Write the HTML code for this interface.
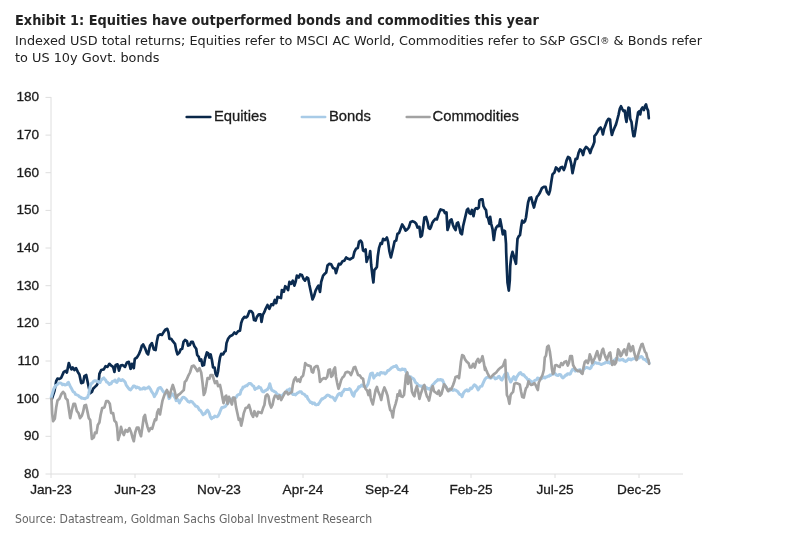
<!DOCTYPE html>
<html><head><meta charset="utf-8">
<style>
html,body{margin:0;padding:0;background:#fff;}
body{width:800px;height:547px;position:relative;overflow:hidden;font-family:"Liberation Sans",sans-serif;}
.t{position:absolute;left:15px;white-space:nowrap;color:#222;font-family:"DejaVu Sans","Liberation Sans",sans-serif;}
#title{top:10.2px;font-size:12.92px;font-weight:bold;line-height:20px;transform:scaleY(1.07);transform-origin:0 0;}
#sub1{top:31.7px;font-size:12.85px;line-height:18px;transform:scaleY(0.93);transform-origin:0 14px;}
#sub2{top:48.7px;font-size:12.87px;line-height:18px;transform:scaleY(0.93);transform-origin:0 14px;}
#src{top:511.05px;font-size:10.9px;line-height:16px;color:#666;transform:scaleY(1.1);transform-origin:0 0;}
svg{position:absolute;left:0;top:0;}
svg text{font-family:"Liberation Sans",sans-serif;font-size:13.6px;fill:#1c1c1c;stroke:#1c1c1c;stroke-width:0.3px;}
</style></head><body>
<div class="t" id="title">Exhibit 1: Equities have outperformed bonds and commodities this year</div>
<div class="t" id="sub1">Indexed USD total returns; Equities refer to MSCI AC World, Commodities refer to S&amp;P GSCI<span style="font-size:72%;position:relative;top:-1.5px">®</span> &amp; Bonds refer</div>
<div class="t" id="sub2">to US 10y Govt. bonds</div>
<div class="t" id="src">Source: Datastream, Goldman Sachs Global Investment Research</div>
<svg width="800" height="547" viewBox="0 0 800 547">
<g id="axes" stroke="#dedede" stroke-width="1" fill="none">
<path d="M51 97V474H683"/>
<path d="M45.5 97.4H51M45.5 135.1H51M45.5 172.7H51M45.5 210.4H51M45.5 248.0H51M45.5 285.7H51M45.5 323.4H51M45.5 361.0H51M45.5 398.7H51M45.5 436.3H51M45.5 474.0H51"/>
<path d="M51 474V478M135 474V478M219 474V478M303 474V478M387 474V478M471 474V478M555 474V478M639 474V478"/>
</g>
<g text-anchor="end">
<text x="39.2" y="101.3">180</text><text x="39.2" y="139.0">170</text><text x="39.2" y="176.6">160</text><text x="39.2" y="214.3">150</text><text x="39.2" y="251.9">140</text><text x="39.2" y="289.6">130</text><text x="39.2" y="327.3">120</text><text x="39.2" y="364.9">110</text><text x="39.2" y="402.6">100</text><text x="39.2" y="440.2">90</text><text x="39.2" y="477.9">80</text>
</g>
<g text-anchor="middle">
<text x="51" y="494.2">Jan-23</text><text x="135" y="494.2">Jun-23</text><text x="219" y="494.2">Nov-23</text><text x="303" y="494.2">Apr-24</text><text x="387" y="494.2">Sep-24</text><text x="471" y="494.2">Feb-25</text><text x="555" y="494.2">Jul-25</text><text x="639" y="494.2">Dec-25</text>
</g>
<g id="lines" fill="none" stroke-width="2.7" stroke-linejoin="round" stroke-linecap="round">
<path id="eq" stroke="#0b2b50" stroke-width="2.7" d="M51.9,398.8 54.4,391.2 56.2,381.2 57.5,378.5 59.4,379.0 61.2,377.8 63.8,371.9 65.6,371.0 66.9,372.5 68.8,363.1 70.0,366.2 71.5,369.4 72.8,367.5 74.4,370.0 76.0,368.1 77.8,371.9 79.4,374.4 81.2,383.1 83.1,382.5 84.4,376.2 86.2,375.0 87.5,381.2 88.8,387.5 90.2,393.1 91.9,391.9 93.1,388.8 95.0,386.9 96.9,385.0 98.8,381.2 99.4,373.8 101.2,370.0 103.8,369.4 105.6,366.2 107.5,366.9 109.4,363.8 111.2,365.6 113.1,366.9 114.4,371.9 115.6,365.0 117.5,364.4 119.0,370.6 120.6,365.6 122.5,365.0 125.0,366.9 126.9,362.5 128.8,361.9 130.6,368.8 131.9,363.8 133.8,368.1 134.8,358.8 136.9,357.5 138.8,354.4 140.6,350.0 141.9,345.6 141.9,346.2 143.1,344.4 145.0,348.1 146.9,353.1 148.1,354.4 150.0,345.6 151.9,343.1 153.8,349.4 155.6,350.0 156.9,341.2 158.1,335.6 160.0,334.4 161.9,335.0 163.8,331.9 165.6,329.4 167.2,328.8 168.5,332.5 169.4,338.8 171.2,338.8 172.8,341.2 175.0,343.8 176.2,350.0 177.5,354.4 179.4,352.5 180.6,349.4 182.2,348.8 183.5,341.9 185.0,340.0 186.9,341.2 188.1,345.6 189.8,345.0 191.2,341.9 192.8,341.9 194.4,346.2 196.2,348.8 197.2,355.0 198.8,356.9 199.8,360.6 201.2,359.4 202.5,365.6 204.0,365.0 205.0,358.8 206.9,352.5 208.1,353.1 209.4,357.5 210.6,354.4 211.9,360.0 213.1,367.5 214.6,367.5 215.6,373.8 216.9,376.2 218.1,371.2 219.0,363.8 220.0,357.5 221.2,353.8 223.1,354.4 224.4,351.9 225.6,351.2 226.5,343.1 228.1,338.8 230.0,336.2 232.5,335.0 234.4,332.5 236.2,333.8 238.1,331.2 240.0,330.6 241.2,323.0 242.5,319.4 244.4,316.9 246.2,317.5 247.5,316.2 249.4,311.2 251.2,311.2 252.8,313.1 254.0,320.0 255.6,320.6 256.9,316.9 258.8,314.4 260.6,314.4 261.5,321.9 262.8,315.0 264.4,311.9 265.6,308.8 267.5,305.0 269.4,308.8 271.2,304.4 273.1,305.0 274.8,300.0 276.2,303.1 277.5,296.9 279.4,297.5 281.0,298.1 281.9,290.0 283.8,291.9 285.2,286.2 286.9,288.1 288.1,290.0 289.4,281.9 291.2,283.8 292.8,280.6 294.4,285.6 295.6,281.9 296.9,275.6 298.8,277.5 300.2,274.4 301.9,275.0 303.5,278.8 305.0,280.6 306.9,277.5 308.1,278.1 309.4,285.0 311.0,292.5 312.5,299.4 314.0,296.2 315.6,290.6 317.2,287.5 318.5,285.6 320.0,291.9 321.2,281.9 323.1,275.6 324.8,273.8 326.2,272.5 327.5,265.6 329.4,263.8 331.2,264.4 333.1,268.1 335.0,268.8 336.0,273.1 337.2,268.8 338.8,263.8 340.6,264.4 342.5,261.2 344.4,260.6 346.2,257.5 348.1,258.8 350.0,259.4 351.9,258.1 353.1,257.5 354.4,251.9 356.0,248.8 357.8,248.1 359.0,241.9 360.6,240.6 361.9,242.5 363.1,250.6 364.4,251.2 365.6,249.4 366.6,261.9 368.1,257.5 369.4,256.2 370.2,251.2 371.2,265.0 372.5,276.2 373.4,282.5 374.4,270.0 375.6,268.8 376.9,266.9 377.8,256.2 379.0,248.1 380.6,243.1 381.9,243.8 383.1,238.8 385.0,240.0 386.9,237.5 388.1,241.9 389.4,251.2 390.9,257.5 392.1,252.5 393.4,246.9 394.6,241.2 396.2,240.6 397.5,233.8 399.0,233.1 400.6,228.8 402.2,224.4 403.8,226.9 405.6,230.6 407.2,229.4 408.8,227.5 410.6,221.9 412.5,221.2 414.4,221.9 416.2,223.8 417.5,227.5 419.4,226.9 420.6,236.9 421.9,235.6 423.1,227.5 424.4,217.5 426.0,216.9 427.5,221.9 428.8,228.1 430.0,228.8 431.0,226.9 432.2,223.1 433.8,220.6 435.6,218.8 436.9,219.4 438.1,215.6 439.4,211.9 440.6,209.4 442.2,210.0 443.8,210.6 445.0,213.1 446.5,212.5 447.5,230.0 448.8,226.2 450.0,220.6 451.5,219.4 452.8,224.4 454.0,227.5 455.6,230.0 456.9,223.1 458.1,222.5 459.4,227.5 460.6,233.1 461.9,234.4 463.1,226.2 464.4,220.6 465.6,215.6 466.9,210.0 468.1,208.8 469.4,213.1 470.6,213.8 471.9,210.0 473.5,216.2 474.8,209.4 476.2,208.1 477.5,208.8 478.8,207.5 479.4,200.6 481.0,199.4 482.5,199.4 483.5,206.2 485.0,208.8 486.0,210.0 486.9,216.9 488.1,218.1 489.4,223.8 490.2,216.9 491.2,223.8 492.5,228.8 493.8,240.0 495.0,231.2 496.2,227.5 497.8,225.6 499.0,226.2 500.2,219.4 501.5,226.2 502.8,234.4 504.0,230.6 505.0,231.2 506.0,243.8 506.2,252.5 506.9,270.0 507.5,282.5 508.8,290.6 509.8,280.0 510.2,266.2 511.2,256.9 512.5,251.9 513.8,256.2 515.0,260.6 516.0,263.8 516.9,247.5 517.5,238.8 518.8,236.2 520.0,235.0 521.2,226.2 522.2,220.6 523.8,222.5 525.0,221.2 526.0,217.5 527.3,208.0 528.1,202.5 529.4,198.1 531.2,197.5 532.5,202.5 534.0,207.5 535.2,202.5 536.9,196.9 538.5,195.0 540.0,192.5 541.9,188.1 543.8,186.9 545.6,186.9 546.9,191.9 548.8,194.4 550.0,190.6 551.2,182.5 552.5,174.4 554.4,172.5 556.0,167.5 557.5,168.8 559.0,171.2 560.6,167.5 562.2,166.9 563.8,170.0 565.0,166.9 566.5,160.6 568.1,156.9 569.8,158.1 571.2,163.8 572.5,173.1 574.0,166.2 575.6,158.8 577.2,158.8 578.5,153.1 580.0,149.4 581.5,150.6 583.1,155.0 584.4,149.4 586.0,146.9 587.5,148.1 588.8,149.4 590.2,153.1 591.5,148.8 593.1,145.6 594.4,141.9 594.4,136.2 596.0,134.4 597.5,131.9 599.0,128.8 600.6,127.5 601.9,130.0 602.9,134.4 604.0,129.4 605.6,125.0 606.9,121.2 608.5,118.8 610.0,119.4 611.0,130.0 611.9,135.0 613.1,131.2 614.4,128.1 616.0,124.4 617.2,120.0 618.5,115.0 619.8,108.8 621.0,106.2 622.2,108.8 623.5,111.2 624.8,110.6 625.6,117.5 626.5,121.9 627.5,113.8 628.5,107.5 629.4,108.1 630.2,118.8 631.5,121.9 632.5,130.0 633.5,136.2 634.4,136.2 635.6,128.8 636.9,120.0 638.1,112.5 639.4,111.2 640.2,114.4 641.2,109.4 642.5,107.5 643.8,110.0 645.0,106.2 646.0,104.4 646.9,108.1 648.1,110.6 648.8,118.1"/>
<path id="bd" stroke="#a8cbe7" stroke-width="3.0" d="M51.2,397.5 52.5,393.1 53.8,388.6 54.7,387.4 55.6,385.5 56.6,385.1 57.5,384.3 58.8,383.0 60.0,383.1 61.2,383.2 62.5,384.7 63.8,384.3 65.0,385.1 65.9,384.7 66.9,384.5 67.7,382.8 68.5,382.4 69.2,384.3 70.0,385.8 70.9,387.6 71.9,389.3 73.1,391.7 74.4,392.3 75.6,394.4 76.9,394.9 78.1,395.3 79.4,396.7 80.4,397.0 81.5,398.2 82.5,398.0 83.8,398.6 85.0,398.8 86.2,397.9 87.5,397.5 88.8,393.6 90.0,387.3 91.2,383.6 92.2,383.1 93.1,381.8 94.1,380.9 95.0,380.7 96.2,380.9 97.5,381.2 98.8,382.4 100.0,382.6 100.9,380.5 101.9,379.4 102.8,378.6 103.8,377.9 104.7,379.3 105.6,379.9 106.6,382.1 107.5,382.3 108.4,383.3 109.4,384.5 110.3,383.5 111.2,383.7 112.2,381.7 113.1,381.3 114.1,381.1 115.0,380.0 115.9,381.9 116.9,382.4 117.8,381.0 118.8,378.8 119.7,379.8 120.6,380.6 121.6,380.6 122.5,379.6 123.4,380.3 124.4,381.3 125.3,382.4 126.2,385.1 127.2,386.5 128.1,387.7 129.4,389.3 130.6,389.9 131.6,388.6 132.5,387.6 133.4,385.9 134.4,386.0 135.3,386.5 136.2,388.0 137.2,387.1 138.1,387.6 139.1,387.8 140.0,389.3 141.2,388.9 142.5,388.9 143.8,387.7 145.0,388.1 145.0,389.0 145.0,388.3 146.2,388.3 147.5,388.1 148.8,386.8 149.7,388.0 150.6,389.3 151.6,391.6 152.5,392.7 153.4,394.1 154.4,396.7 155.3,394.9 156.2,393.6 157.2,391.2 158.1,388.8 159.4,387.8 160.6,387.6 161.6,389.0 162.5,390.6 163.4,391.7 164.4,392.7 165.3,392.2 166.2,391.3 167.0,392.7 167.8,393.8 169.0,398.6 169.8,397.9 170.6,395.7 171.6,395.3 172.5,393.9 173.4,395.1 174.4,396.8 175.3,398.1 176.2,400.7 177.2,399.6 178.1,399.8 179.4,403.0 180.3,401.0 181.2,399.9 182.2,398.0 183.1,397.3 184.4,397.5 185.6,398.6 186.9,400.1 188.1,401.7 189.4,402.2 190.6,401.3 191.9,401.6 193.1,403.0 194.4,404.4 195.6,406.2 196.9,406.2 198.1,407.6 199.4,409.9 200.6,410.6 201.9,412.8 203.1,414.8 204.1,413.7 205.0,413.7 206.2,411.5 207.5,410.1 208.4,411.3 209.4,413.6 210.4,417.0 211.5,418.8 212.6,417.5 213.8,417.5 214.7,416.1 215.6,416.3 216.9,416.8 218.1,415.8 219.1,414.1 220.0,411.8 220.9,409.5 221.9,407.4 222.8,407.6 223.8,406.9 224.7,407.0 225.6,406.2 226.6,404.5 227.5,403.9 228.4,402.7 229.4,400.1 230.3,399.9 231.2,398.9 232.5,398.8 233.8,398.0 235.0,397.8 236.2,397.4 237.2,395.4 238.1,394.8 239.1,394.3 240.0,394.3 241.2,390.1 242.2,389.2 243.1,386.9 244.4,387.0 245.6,385.8 246.9,385.8 248.1,384.3 249.1,383.5 250.0,383.4 250.9,383.7 251.9,384.9 252.8,385.8 253.8,386.4 255.0,389.5 255.9,388.7 256.9,388.2 257.8,388.0 258.8,386.7 259.7,387.5 260.6,387.7 261.9,390.7 262.8,391.7 263.8,391.9 264.7,390.7 265.6,390.7 266.6,389.7 267.5,389.5 268.8,387.1 269.8,383.7 271.0,388.1 271.8,390.1 272.5,390.7 273.4,390.7 274.4,391.7 275.6,392.2 276.9,393.9 278.1,394.9 279.4,394.9 280.6,395.9 281.9,395.8 283.1,394.6 284.4,393.1 285.3,392.6 286.2,391.7 287.2,390.1 288.1,390.2 288.9,389.6 289.8,388.8 290.5,391.0 291.2,391.8 292.2,393.8 293.1,394.5 294.4,394.2 295.6,394.9 296.6,393.7 297.5,393.0 298.4,392.6 299.4,391.8 300.3,391.7 301.2,391.7 302.2,393.5 303.1,393.7 304.1,394.3 305.0,395.0 305.9,396.3 306.9,396.2 307.8,398.8 308.8,400.0 309.7,401.3 310.6,402.5 311.6,402.3 312.5,403.7 313.4,402.9 314.4,402.9 315.3,404.6 316.2,404.9 317.2,404.6 318.1,404.5 319.1,403.2 320.0,401.8 320.9,400.3 321.9,398.8 322.8,398.9 323.8,398.0 324.7,397.6 325.6,396.8 326.6,395.6 327.5,395.1 328.4,395.3 329.4,395.6 330.3,396.7 331.2,397.0 332.2,397.1 333.1,397.5 334.1,399.1 335.0,400.6 336.2,398.2 337.2,396.2 338.1,394.4 339.1,393.7 340.0,393.3 341.2,395.7 342.5,392.0 343.4,391.4 344.4,389.3 345.6,389.5 346.9,389.6 348.1,389.6 349.4,388.6 350.3,389.4 351.2,391.2 352.5,394.8 353.8,396.1 355.0,391.7 355.9,391.2 356.9,390.1 357.8,389.1 358.8,386.7 359.7,386.9 360.6,386.3 361.6,385.0 362.5,385.2 363.4,386.4 364.4,386.1 365.3,387.3 366.2,386.8 367.2,385.3 368.1,383.9 369.4,378.3 370.6,373.6 371.6,373.3 372.5,373.1 373.8,378.1 374.7,376.4 375.6,375.6 376.6,375.1 377.5,373.6 378.4,374.5 379.4,375.0 380.3,372.9 381.2,372.4 382.2,373.0 383.1,373.1 384.1,372.7 385.0,373.9 385.9,373.3 386.9,372.1 387.8,370.6 388.8,370.5 390.0,369.2 390.6,368.9 391.6,367.7 392.5,367.4 393.4,366.7 394.4,366.4 395.3,366.5 396.2,365.5 397.5,368.0 398.4,369.5 399.4,369.4 400.3,370.0 401.2,369.8 402.2,368.9 403.1,369.5 404.1,369.2 405.0,369.2 405.9,371.7 406.9,372.6 407.8,374.9 408.8,376.1 409.7,377.2 410.6,376.7 411.6,378.1 412.5,378.1 413.4,378.8 414.4,380.0 415.3,382.3 416.2,383.0 417.2,383.7 418.1,385.6 419.1,385.5 420.0,386.1 420.9,386.0 421.9,386.7 422.8,386.1 423.8,386.2 424.7,386.2 425.6,387.0 426.6,387.5 427.5,388.8 428.4,388.5 429.4,389.3 430.3,387.9 431.2,388.0 432.2,385.4 433.1,384.5 434.1,383.5 435.0,382.4 435.9,381.5 436.9,380.8 437.8,379.6 438.8,380.1 439.7,379.6 440.6,379.4 441.6,380.3 442.5,380.0 443.8,383.1 444.7,385.0 445.6,386.4 446.6,387.5 447.5,389.5 448.4,390.4 449.4,390.7 450.3,390.2 451.2,389.9 452.2,389.6 453.1,390.5 454.1,389.6 455.0,390.1 455.9,390.2 456.9,391.1 457.8,391.5 458.8,393.3 459.7,394.4 460.6,394.4 461.4,395.3 462.2,396.8 463.5,393.0 464.2,392.1 465.0,391.1 465.9,390.5 466.9,389.9 467.8,391.1 468.8,390.8 469.7,389.5 470.6,388.0 471.6,388.6 472.5,387.4 473.4,386.0 474.4,384.8 475.3,385.4 476.2,386.2 477.2,388.1 478.1,389.9 479.1,388.4 480.0,386.7 480.9,386.2 481.9,386.1 482.8,383.9 483.8,381.7 485.0,379.2 485.9,378.1 486.9,377.4 487.8,377.3 488.8,376.9 489.7,377.9 490.6,378.2 491.6,377.6 492.5,376.4 493.4,376.7 494.4,377.4 495.3,378.9 496.2,378.6 497.2,378.2 498.1,376.9 499.1,376.4 500.0,377.6 500.9,379.4 501.9,380.1 502.8,378.5 503.8,376.4 504.7,374.4 505.6,373.8 506.4,373.4 507.2,373.3 508.0,375.8 508.8,377.6 509.7,379.8 510.6,382.0 511.4,380.9 512.2,379.5 513.0,377.7 513.8,376.7 514.7,377.8 515.6,379.9 516.6,377.1 517.5,375.8 518.4,374.5 519.4,373.2 520.6,372.6 521.6,374.1 522.5,375.0 523.4,374.5 524.4,375.7 525.3,377.0 526.2,377.5 527.2,378.8 528.1,380.1 529.1,379.6 530.0,380.7 530.9,381.1 531.9,382.3 532.8,381.8 533.8,382.0 534.7,380.4 535.6,380.1 536.6,379.9 537.5,378.1 538.4,378.2 539.4,378.7 540.3,379.1 541.2,378.9 542.2,378.3 543.1,377.6 544.1,377.1 545.0,378.0 545.9,377.1 546.9,377.0 547.8,376.2 548.8,376.3 549.7,375.1 550.6,375.4 551.6,374.6 552.5,374.4 553.4,374.1 554.4,373.2 555.3,373.7 556.2,375.0 557.2,375.3 558.1,375.6 559.1,374.4 560.0,374.5 560.9,375.1 561.9,377.1 562.8,377.9 563.8,377.3 564.7,376.2 565.6,375.1 566.6,375.2 567.5,373.7 568.4,373.7 569.4,374.3 570.3,373.9 571.2,371.8 572.5,369.4 573.4,369.1 574.4,370.0 575.3,371.1 576.2,370.5 577.2,370.9 578.1,370.0 579.1,370.3 580.0,369.5 580.6,371.8 581.6,372.6 582.5,371.9 583.4,369.5 584.4,368.6 585.3,368.1 586.2,367.5 587.2,367.5 588.1,368.0 589.1,368.2 590.0,368.7 590.9,367.8 591.9,365.4 592.8,364.8 593.8,363.3 594.7,362.2 595.6,362.7 596.6,363.2 597.5,363.3 598.4,363.1 599.4,363.7 600.3,363.9 601.2,364.6 602.2,364.2 603.1,363.7 604.1,363.3 605.0,363.0 605.9,362.0 606.9,362.3 607.8,362.8 608.8,361.8 609.7,363.2 610.6,363.0 611.6,362.7 612.5,363.1 613.4,361.0 614.4,359.9 615.3,359.8 616.2,358.3 617.2,359.0 618.1,358.8 619.1,360.1 620.0,360.2 620.9,359.8 621.9,359.5 622.8,359.2 623.8,360.7 624.7,360.9 625.6,361.4 626.6,360.9 627.5,359.9 628.4,358.9 629.4,359.5 630.3,359.1 631.2,360.0 632.2,359.1 633.1,358.7 634.1,358.8 635.0,358.3 635.9,358.3 636.9,359.4 637.8,358.4 638.8,358.1 639.7,357.3 640.6,356.7 641.6,356.6 642.5,357.4 643.4,359.1 644.4,359.4 645.3,359.5 646.2,360.8 647.2,361.8 648.1,361.2 649.1,363.0"/>
<path id="cm" stroke="#a2a2a2" stroke-width="2.7" d="M51.5,398.8 52.2,413.8 53.1,421.2 54.8,418.8 56.2,407.5 57.5,400.6 59.4,398.8 61.2,394.4 63.1,391.9 64.8,393.8 65.6,398.1 67.5,400.0 68.8,408.8 70.2,418.1 71.9,410.0 73.5,403.8 75.0,403.8 76.9,411.2 78.5,413.1 80.0,418.1 81.9,415.6 83.1,411.9 84.4,405.6 86.0,405.0 87.5,411.9 88.8,418.1 90.2,420.0 91.2,431.2 91.9,438.8 93.8,437.5 95.0,432.5 96.5,433.1 97.8,425.0 99.4,422.5 100.6,415.0 102.2,408.1 104.4,407.5 106.2,401.2 108.1,401.2 109.8,403.8 111.2,413.1 113.1,413.1 114.4,420.6 116.2,422.5 117.2,428.1 118.1,440.0 119.8,434.4 121.0,426.9 122.5,432.5 123.8,435.0 125.6,430.0 127.5,431.9 129.4,428.1 131.2,432.5 132.5,437.5 133.8,441.2 135.2,432.5 136.9,427.5 138.5,427.5 139.8,433.1 141.0,436.2 142.5,426.2 143.8,416.9 145.0,415.0 146.0,421.2 147.5,426.9 149.0,431.2 150.6,428.1 152.2,428.8 153.8,423.1 155.0,419.4 156.2,420.0 157.2,412.5 158.5,409.4 160.0,414.4 161.2,407.5 162.5,400.6 164.4,395.0 166.2,391.9 166.9,390.0 168.1,392.5 169.4,396.9 171.2,390.0 172.8,385.0 174.4,390.0 176.2,398.1 178.1,395.0 180.0,393.8 181.9,391.9 183.8,390.0 184.8,381.9 186.2,380.6 188.1,376.2 190.0,372.5 191.9,366.2 193.8,365.6 195.6,368.1 197.5,371.2 199.4,368.1 201.2,372.5 202.5,382.5 203.8,395.0 205.0,392.5 206.2,386.2 207.5,378.1 209.4,378.8 210.6,375.0 212.5,375.0 213.8,379.4 215.0,383.1 216.9,381.2 218.1,386.2 220.0,385.0 221.2,390.6 222.2,396.2 223.5,403.1 225.0,396.9 226.2,395.6 227.5,403.8 229.0,396.9 230.2,400.0 231.9,404.4 233.1,397.5 234.8,398.1 236.0,406.9 237.5,413.8 238.8,420.0 240.0,418.8 241.2,425.6 242.5,420.0 243.8,413.1 245.6,408.1 247.5,407.5 249.0,405.0 250.2,408.8 251.5,413.8 253.1,416.9 254.4,411.2 255.6,414.4 256.9,416.2 258.1,411.9 260.0,412.5 261.5,413.1 263.1,408.1 264.4,405.0 265.6,396.2 267.2,394.4 268.5,396.2 269.8,403.8 271.2,407.5 272.5,405.0 273.8,398.8 275.0,395.6 276.9,396.2 278.1,398.8 279.4,395.6 281.2,400.0 282.5,397.5 283.8,395.0 285.2,391.9 286.9,391.9 288.1,394.4 290.0,393.1 291.9,391.9 292.8,385.0 294.0,380.0 295.6,377.5 297.2,381.2 298.8,379.4 300.0,381.9 301.2,377.5 303.1,375.6 304.4,368.8 305.2,363.1 306.9,365.0 308.8,365.6 310.6,366.2 311.9,371.9 313.1,372.5 314.4,367.5 316.0,366.2 317.5,366.2 318.8,371.2 320.0,381.9 321.9,379.4 323.8,378.1 325.6,378.8 327.2,376.9 328.5,370.0 330.0,369.4 331.2,376.9 332.5,375.6 333.8,369.4 335.0,367.5 336.0,376.9 337.2,383.1 338.5,388.8 339.8,385.0 341.2,380.0 342.5,377.5 344.0,376.2 345.6,372.5 347.5,371.9 349.4,372.5 351.0,375.0 352.5,371.2 353.8,367.5 355.2,366.9 356.5,370.6 358.1,375.0 360.0,375.6 361.5,378.1 363.1,378.8 364.0,385.0 365.6,388.8 367.2,390.6 368.5,395.0 369.8,390.0 370.6,397.5 371.2,400.0 372.8,404.4 374.4,396.2 375.6,390.0 376.9,386.9 378.1,391.2 380.0,395.6 381.2,400.0 382.8,391.9 384.4,387.5 386.0,391.2 387.5,395.6 389.0,404.4 390.2,410.0 391.5,411.2 392.8,417.5 394.0,408.8 395.6,403.8 396.9,398.8 397.5,394.4 398.8,395.6 399.8,390.6 401.0,396.2 402.5,396.9 404.0,395.0 405.0,385.0 406.0,375.0 407.2,372.5 408.1,383.8 409.4,376.9 410.6,379.4 411.9,391.2 413.1,394.4 414.4,396.2 415.6,390.0 416.9,386.2 418.1,391.2 419.4,398.8 420.6,394.4 421.9,390.6 423.1,386.9 424.4,385.0 425.6,391.9 426.9,396.2 428.1,398.1 429.0,400.6 430.2,395.0 431.5,388.8 432.8,386.2 434.0,391.2 435.6,392.5 437.2,393.8 438.8,390.6 440.0,395.6 441.5,393.8 442.8,388.8 444.0,384.4 445.6,386.2 446.9,388.8 448.1,391.2 449.8,388.8 451.2,389.4 453.1,385.0 454.4,381.2 455.6,376.9 457.5,376.2 459.0,378.1 460.0,370.0 461.0,361.2 462.2,355.0 463.8,356.2 465.0,359.4 466.9,361.9 468.5,363.1 470.0,367.5 471.5,367.5 473.1,363.8 474.8,367.5 476.2,361.9 478.1,358.8 479.4,362.5 481.0,360.6 482.5,356.2 483.8,362.5 485.0,370.0 485.0,366.9 486.2,370.0 487.5,373.1 489.0,376.2 490.6,377.5 492.5,375.6 494.4,373.8 496.2,372.5 498.1,370.0 500.0,368.1 501.9,366.9 503.1,365.6 504.4,361.9 505.2,360.0 506.0,377.5 506.9,395.0 508.1,397.5 509.4,403.8 510.6,395.0 511.9,393.1 513.1,391.9 514.4,383.8 516.2,383.1 518.1,383.8 519.8,384.4 521.0,391.2 522.2,396.9 523.8,397.5 525.0,391.9 526.0,388.1 527.2,386.9 528.5,381.2 529.8,383.8 531.2,385.0 532.8,384.4 534.4,383.1 535.6,385.0 536.9,388.1 537.8,390.0 538.8,382.5 540.0,380.0 541.2,377.5 542.5,375.0 543.8,370.0 544.8,357.5 546.0,355.6 547.2,346.9 548.5,345.6 549.8,351.2 551.0,360.0 551.9,368.8 552.8,373.8 554.0,372.5 555.0,365.6 556.5,365.0 558.1,366.2 559.8,366.9 561.2,363.1 562.8,365.0 564.4,361.9 566.2,361.2 567.8,365.6 569.0,362.5 570.2,356.2 571.9,356.2 573.1,365.0 574.8,368.1 576.2,370.0 578.1,371.2 580.0,370.6 581.5,373.1 582.5,373.8 583.5,367.5 584.8,361.9 586.2,360.6 587.8,363.1 588.8,360.0 589.8,354.4 591.0,357.5 592.2,363.1 593.8,360.0 595.0,357.5 596.2,353.8 597.2,351.2 598.5,356.2 599.8,360.0 601.0,355.0 602.2,350.0 603.1,348.8 604.4,353.8 605.6,357.5 606.9,360.0 608.1,356.2 609.4,353.1 610.2,352.5 611.2,360.0 612.2,365.0 613.5,361.2 614.8,364.4 616.0,362.5 617.2,356.2 618.1,349.4 619.4,351.2 620.6,356.2 621.9,354.4 623.1,351.2 624.4,349.4 625.6,352.5 626.5,355.0 627.5,348.8 628.8,343.8 629.8,346.9 630.6,351.2 631.9,348.1 632.9,346.2 634.0,351.9 635.2,356.2 636.5,360.0 637.8,356.2 639.0,351.9 640.2,348.1 641.5,344.4 642.5,343.8 643.8,348.1 645.0,351.9 646.2,353.1 647.2,357.5 648.5,360.0 649.1,363.8"/>
</g>
<g id="legend">
<path d="M186.6 116.9H210.4" stroke="#0a2748" stroke-width="2.5" stroke-linecap="round"/><text x="214" y="121.3" style="font-size:14.8px">Equities</text>
<path d="M301.8 116.9H325.2" stroke="#a8cbe7" stroke-width="2.5" stroke-linecap="round"/><text x="329" y="121.3" style="font-size:14.8px">Bonds</text>
<path d="M406.7 116.9H429.6" stroke="#a2a2a2" stroke-width="2.5" stroke-linecap="round"/><text x="432.5" y="121.3" style="font-size:14.8px">Commodities</text>
</g>
</svg>
</body></html>
